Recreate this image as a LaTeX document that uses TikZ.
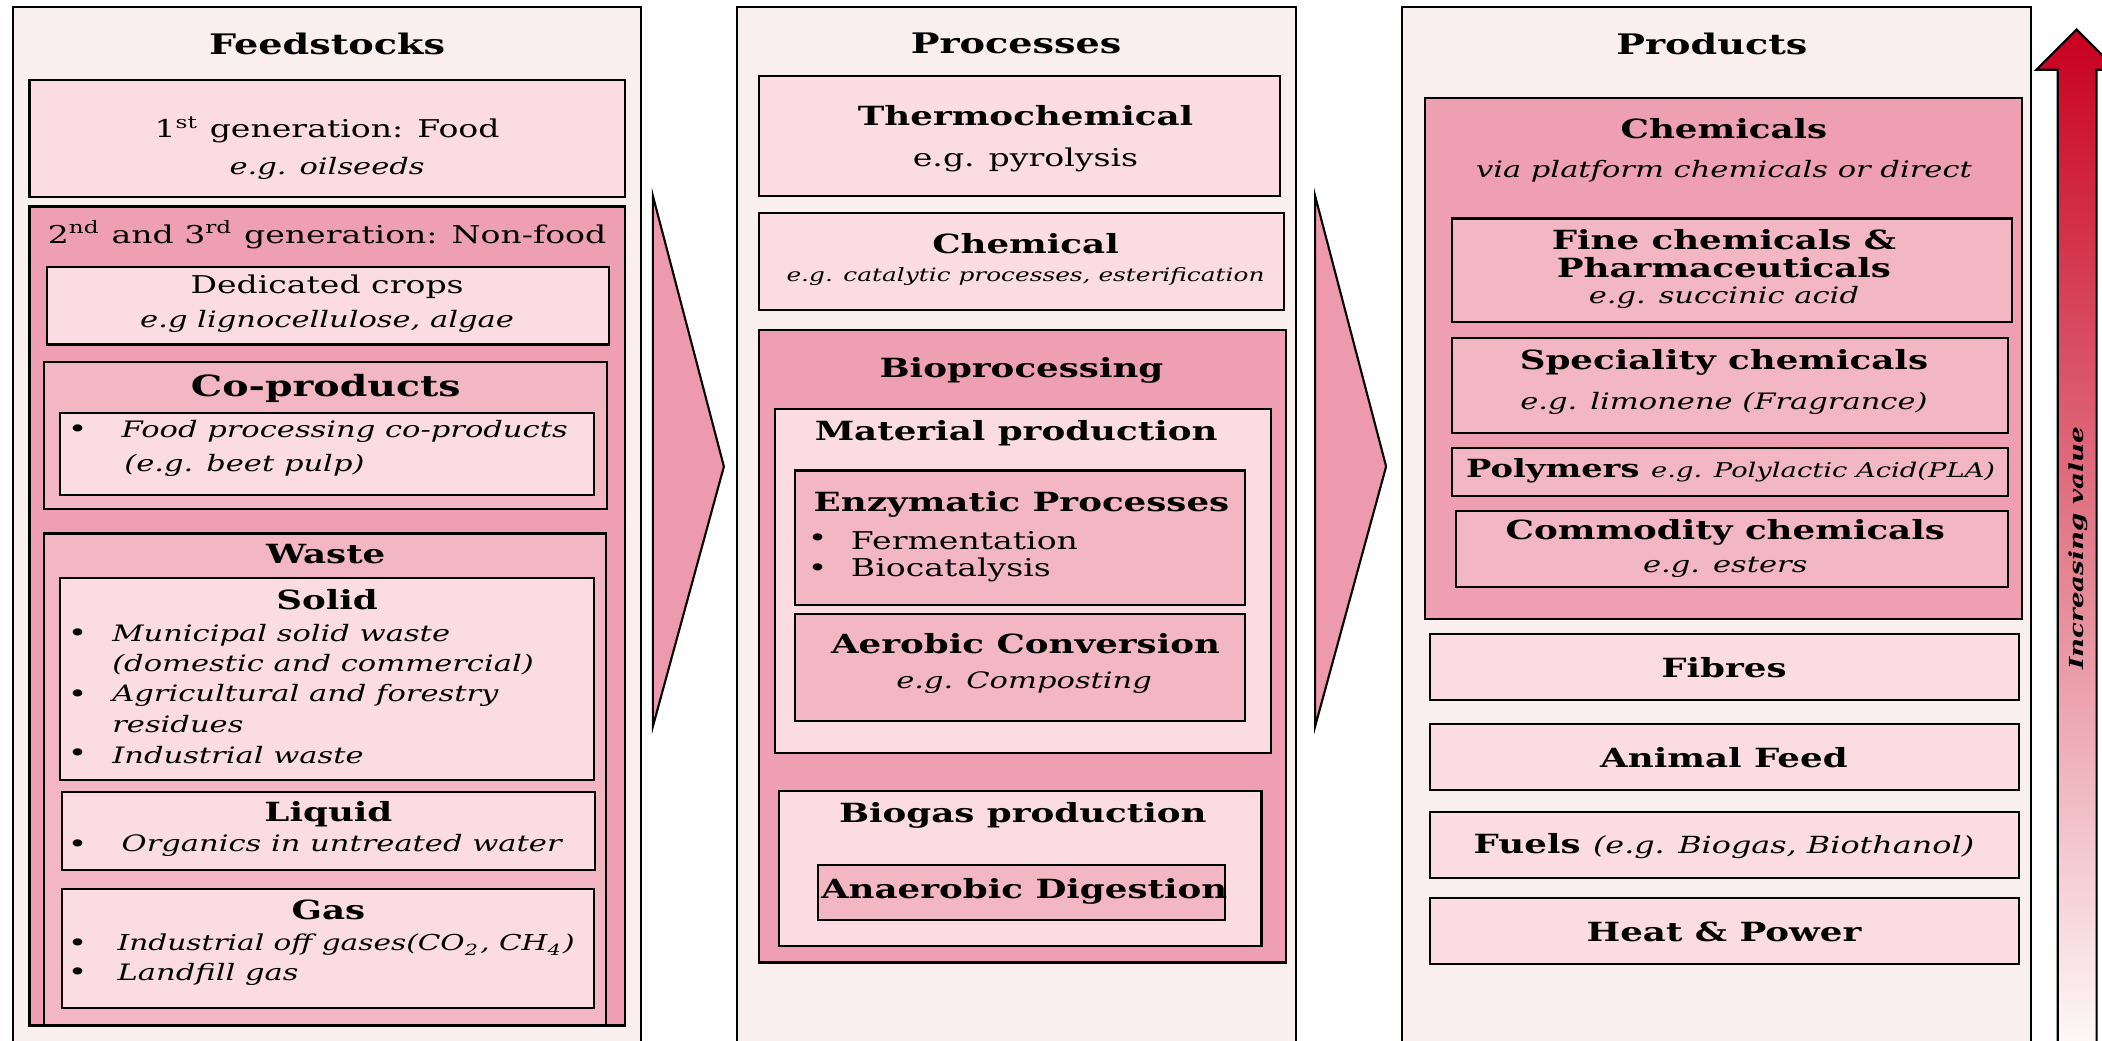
\documentclass[tikz,border=0pt]{standalone}
\usepackage{fontspec}
\setmainfont{DejaVu Serif}[FakeStretch=1.35]
\definecolor{panelbg}{HTML}{F9EFEF}
\definecolor{palepink}{HTML}{FADCE2}
\definecolor{softpink}{HTML}{F3B7C4}
\definecolor{deeppink}{HTML}{EEA0B2}
\definecolor{chevpink}{HTML}{EE9AAE}
\definecolor{arrowred}{HTML}{C8001E}
\begin{document}
\begin{tikzpicture}[x=0.01cm, y=-0.01cm, line width=0.45pt,
    panel/.style={draw=black, fill=panelbg},
    pale/.style={draw=black, fill=palepink},
    soft/.style={draw=black, fill=softpink},
    deep/.style={draw=black, fill=deeppink},
    title/.style={inner sep=0pt, font=\fontsize{6}{7}\selectfont\bfseries},
    hd/.style={inner sep=0pt, font=\fontsize{5.6}{6.6}\selectfont\bfseries},
    tx/.style={inner sep=0pt, font=\fontsize{5.2}{6.2}\selectfont},
    it/.style={inner sep=0pt, font=\fontsize{4.8}{5.8}\selectfont\itshape},
    dot/.style={inner sep=0pt, font=\fontsize{5.2}{6.2}\selectfont}]
    \fill[white] (0,0) rectangle (1568,776);
    \useasboundingbox (0,0) rectangle (1568,776);

    % feedstocks
    \draw[panel] (10,5) rectangle (478,800);
    \draw[pale] (22,60) rectangle (466,147);
    \draw[deep] (22,154) rectangle (466,765);
    \draw[pale] (35,199) rectangle (454,257);
    \draw[soft] (33,270) rectangle (453,380);
    \draw[pale] (45,308) rectangle (443,369);
    \draw[soft] (33,398) rectangle (452,765);
    \draw[pale] (45,431) rectangle (443,582);
    \draw[pale] (46,591) rectangle (444,649);
    \draw[pale] (46,663) rectangle (443,752);

    \node[title] (feed) at (244,33) {Feedstocks};
    \node[tx] (gen1) at (244,97) {1\textsuperscript{st} generation: Food};
    \node[it] (gen1eg) at (244,126) {e.g. oilseeds};
    \node[tx] (gen2) at (244,175) {2\textsuperscript{nd} and 3\textsuperscript{rd} generation: Non-food};
    \node[tx] (crops) at (244,214) {Dedicated crops};
    \node[it] (cropseg) at (244,240) {e.g lignocellulose, algae};
    \node[hd, font=\fontsize{6.2}{7}\selectfont\bfseries] (coprod) at (243,290) {Co-products};
    \node[hd] (waste) at (243,413) {Waste};
    \node[hd] (solid) at (244,447) {Solid};
    \node[hd] (liquid) at (245,607) {Liquid};
    \node[hd] (gas) at (245,679) {Gas};

    \foreach \y in {322,474,519,563,631,705,727}
        \node[dot] (b\y) at (58,\y) {\textbullet};
    \node[it, anchor=west] (co1) at (90,322) {Food processing co-products};
    \node[it, anchor=west] (co2) at (92,347) {(e.g. beet pulp)};
    \foreach \y/\txt [count=\i] in {474/Municipal solid waste, 496/(domestic and commercial),
        519/Agricultural and forestry, 540/residues, 563/Industrial waste}
        \node[it, anchor=west] (solid\i) at (83,\y) {\txt};
    \node[it, anchor=west] (liq1) at (90,631) {Organics in untreated water};
    \node[it, anchor=west, font=\fontsize{4.65}{5.6}\selectfont\itshape] (gas1) at (87,705) {Industrial off gases(CO\textsubscript{2}, CH\textsubscript{4})};
    \node[it, anchor=west] (gas2) at (87,727) {Landfill gas};

    % chevrons
    \draw[fill=chevpink] (487,146) -- (540,348) -- (487,542) -- cycle;
    \draw[fill=chevpink] (981,146) -- (1034,348) -- (981,542) -- cycle;

    % processes
    \draw[panel] (550,5) rectangle (967,800);
    \draw[pale] (566,57) rectangle (955,146);
    \draw[pale] (566,159) rectangle (958,231);
    \draw[deep] (566,246) rectangle (959,718);
    \draw[pale] (578,305) rectangle (948,562);
    \draw[soft] (593,351) rectangle (929,451);
    \draw[soft] (593,458) rectangle (929,538);
    \draw[pale] (581,590) rectangle (941,706);
    \draw[soft] (610,645) rectangle (914,686);

    \node[title] (proc) at (758,32) {Processes};
    \node[hd] (thermo) at (765,86) {Thermochemical};
    \node[tx] (thermoeg) at (765,119) {e.g. pyrolysis};
    \node[hd] (chem) at (765,182) {Chemical};
    \node[it, font=\fontsize{3.9}{4.9}\selectfont\itshape] (chemeg) at (765,206) {e.g. catalytic processes, esterification};
    \node[hd] (bio) at (762,276) {Bioprocessing};
    \node[hd] (mat) at (758,323) {Material production};
    \node[hd] (enz) at (762,376) {Enzymatic Processes};
    \foreach \y/\txt [count=\i] in {403/Fermentation, 425/Biocatalysis} {
        \node[dot] (eb\i) at (610,\y) {\textbullet};
        \node[tx, anchor=west] (enz\i) at (634,\y) {\txt};
    }
    \node[hd] (aer) at (765,480) {Aerobic Conversion};
    \node[it] (aereg) at (764,509) {e.g. Composting};
    \node[hd] (biogas) at (763,608) {Biogas production};
    \node[hd] (anaer) at (764,665) {Anaerobic Digestion};

    % products
    \draw[panel] (1046,5) rectangle (1515,800);
    \draw[deep] (1063,73) rectangle (1508,462);
    \draw[soft] (1083,163) rectangle (1501,240);
    \draw[soft] (1083,252) rectangle (1498,323);
    \draw[soft] (1083,334) rectangle (1498,370);
    \draw[soft] (1086,381) rectangle (1498,438);

    \node[title] (prod) at (1277,33) {Products};
    \node[hd] (chems) at (1286,96) {Chemicals};
    \node[it] (chemsvia) at (1286,128) {via platform chemicals or direct};
    \node[hd] (fine) at (1286,179) {Fine chemicals \&};
    \node[hd] (pharma) at (1286,200) {Pharmaceuticals};
    \node[it] (fineeg) at (1286,222) {e.g. succinic acid};
    \node[hd] (spec) at (1286,270) {Speciality chemicals};
    \node[it] (speceg) at (1286,301) {e.g. limonene (Fragrance)};
    \node[hd, font=\fontsize{5.3}{6.3}\selectfont\bfseries] (poly) at (1291,351)
        {Polymers \fontsize{4.3}{5.3}\selectfont\mdseries\itshape e.g. Polylactic Acid(PLA)};
    \node[hd] (comm) at (1287,397) {Commodity chemicals};
    \node[it] (commeg) at (1287,423) {e.g. esters};

    \foreach \y/\txt [count=\i] in {473/Fibres, 540/Animal Feed,
        606/Fuels {\fontsize{5}{6}\selectfont\mdseries\itshape (e.g. Biogas, Biothanol)}, 670/Heat \& Power} {
        \draw[pale] (1067,\y) rectangle (1506,\y+49);
        \node[hd] (low\i) at (1286,\y+25) {\txt};
    }

    % value arrow
    \shade[draw=black, top color=arrowred, middle color=arrowred!75!white, bottom color=white]
        (1549,22) -- (1579,52) -- (1564,52) -- (1564,800) -- (1535,800) -- (1535,52) -- (1519,52) -- cycle;
    \node[hd, font=\fontsize{4.1}{5}\selectfont\bfseries\itshape, rotate=90] (incr) at (1550,409) {Increasing value};
\end{tikzpicture}
\end{document}
